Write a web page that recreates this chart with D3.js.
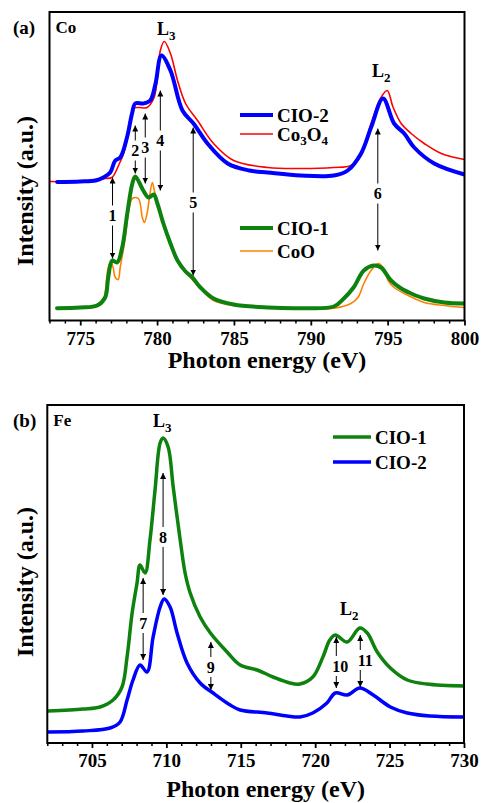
<!DOCTYPE html>
<html><head><meta charset="utf-8">
<script src="https://cdn.jsdelivr.net/npm/d3@7"></script>
<style>
html,body{margin:0;padding:0;background:#fff;}
</style></head>
<body>
<svg id="chart" width="481" height="803" style="font-family:'Liberation Serif','DejaVu Serif',serif;font-weight:bold;"></svg>
<script>
const FONT = "'Liberation Serif','DejaVu Serif',serif";
// ---------- Panel (a): Co L-edge ----------
const coCIO2 = [[773.5,138.5],[775,139],[776,140],[776.5,143],[776.95,148],[777.28,160],[777.6,163],[778.04,183],[778.37,207],[778.58,217],[779.1,217],[779.55,220],[779.9,237],[780.28,265],[780.87,250],[781.65,210],[782.37,197],[783.28,177],[784.59,157],[786,150],[787.2,148],[789.35,145],[791.5,145],[792.4,150],[793.27,167],[793.92,193],[794.7,222],[795.42,197],[796.08,187],[796.73,173],[798.03,157],[800,146]];
const coCo3O4 = [[773.03,139],[775,139],[776,141],[776.6,142],[777.06,143],[777.49,155],[777.82,167],[778.14,187],[778.47,212],[778.8,213],[779.34,213],[779.78,222],[780.0,240],[780.21,270],[780.47,279],[780.87,267],[781.33,240],[781.85,217],[782.63,200],[783.67,177],[784.98,160],[787.2,153],[789.35,152],[791.5,153],[792.61,155],[793.27,165],[793.92,197],[794.57,223],[794.97,230],[795.36,213],[795.88,197],[796.53,187],[797.38,177],[798.49,167],[800,161]];
const coCIO1 = [[773.49,12.3],[775,13],[776.1,15],[776.62,23],[776.82,43],[777.08,60],[777.4,58],[777.73,73],[778.06,107],[778.39,137],[778.58,144],[779.1,130],[779.45,123],[779.78,126],[780.02,117],[780.41,97],[780.87,77],[781.33,60],[781.85,49],[782.3,43],[782.82,33],[783.67,22],[784.98,16],[787.2,13],[789.35,12.3],[791.5,14],[792.15,22],[792.78,33],[793.45,50],[794.1,55],[794.57,53],[795.22,40],[795.88,32],[796.53,27],[797.38,22],[798.69,18],[800,17]];
const coCoO = [[775.32,12.3],[776.0,14],[776.49,20],[776.82,53],[777.01,58],[777.14,53],[777.28,43],[777.47,41],[777.6,53],[777.93,83],[778.12,107],[778.39,122],[778.78,122],[779.04,103],[779.17,98],[779.36,108],[779.5,123],[779.69,138],[779.82,130],[780.02,117],[780.67,83],[781.52,55],[782.17,43],[782.82,32],[783.67,20],[784.98,15],[787.2,13],[789.35,12.3],[791.5,12.3],[792.61,17],[793.07,23],[793.45,37],[793.92,50],[794.38,57],[794.7,53],[795.03,40],[795.42,33],[796.34,25],[797.38,18],[798.69,15],[800,13]];
const coArrows = [
  {label:"1", e:777.1, up:143, mid:105, down:62},
  {label:"2", e:778.58, up:195, mid:170, down:147},
  {label:"3", e:779.23, up:207, mid:173, down:137},
  {label:"4", e:780.21, up:230, mid:180, down:130},
  {label:"5", e:782.35, up:193, mid:118, down:45},
  {label:"6", e:794.36, up:192, mid:127, down:70}
];
const coTicks = [775,780,785,790,795,800];

// ---------- Panel (b): Fe L-edge ----------
const feCIO1 = [[702.05,32],[704.4,34],[705.54,36],[706.42,43],[707.02,56],[707.36,86],[707.7,130],[708.03,160],[708.23,178],[708.57,170],[708.9,203],[709.24,253],[709.58,300],[709.78,305],[710.12,296],[710.46,256],[710.93,203],[711.26,170],[711.6,150],[712.27,126],[712.96,110],[714.08,91],[714.96,78],[716.1,73],[717.17,66],[718.3,60],[718.97,59],[719.84,66],[720.52,86],[720.98,103],[721.35,108],[722.15,101],[723.0,115],[723.5,110],[724.17,91],[725.05,75],[726.19,63],[727.5,59],[730,57]];
const feCIO2 = [[702.05,11],[704.4,12],[706.22,15],[706.89,21],[707.36,43],[707.76,63],[708.23,78],[708.7,71],[709.11,106],[709.58,136],[709.85,144],[710.25,136],[710.72,110],[711.39,80],[712.27,60],[713.14,50],[714.29,38],[714.96,33],[716.77,30],[718.11,27],[718.97,26],[719.84,30],[720.79,40],[721.35,50],[722.15,48],[723.0,55],[723.9,48],[725.05,36],[726.19,30],[727.7,27],[730,26]];
const feArrows = [
  {label:"7", e:708.44, up:165, mid:120, down:83},
  {label:"8", e:709.78, up:270, mid:206, down:148},
  {label:"9", e:712.99, up:101, mid:76, down:53},
  {label:"10", e:721.42, up:106, mid:77, down:55, dx:4},
  {label:"11", e:723.03, up:108, mid:83, down:56, dx:5}
];
const feTicks = [705,710,715,720,725,730];

const svg = d3.select("#chart");
const defs = svg.append("defs");
defs.append("marker").attr("id","ah").attr("viewBox","0 0 10 10")
  .attr("refX",10).attr("refY",5).attr("markerWidth",6).attr("markerHeight",6)
  .attr("markerUnits","userSpaceOnUse").attr("orient","auto")
  .append("path").attr("d","M0,0 L10,5 L0,10 Z").attr("fill","#000");

function txt(sel){ return sel.style("font-family",FONT).style("font-weight","bold").attr("fill","#000"); }

function panel(cfg){
  const x = d3.scaleLinear().domain(cfg.xDomain).range([cfg.left, cfg.right]);
  const y = d3.scaleLinear().domain(cfg.yDomain).range([cfg.bottom, cfg.top]);
  const g = svg.append("g");
  const clipId = "clip"+cfg.id;
  defs.append("clipPath").attr("id",clipId).append("rect")
    .attr("x",cfg.left).attr("y",cfg.top).attr("width",cfg.right-cfg.left).attr("height",cfg.bottom-cfg.top);
  const line = d3.line().x(d=>x(d[0])).y(d=>y(d[1])).curve(d3.curveCatmullRom.alpha(0.5));
  const lg = g.append("g").attr("clip-path",`url(#${clipId})`);
  cfg.series.forEach(s=>{
    lg.append("path").datum(s.data).attr("d",line).attr("fill","none")
      .attr("stroke",s.color).attr("stroke-width",s.width).attr("stroke-linejoin","round").attr("stroke-linecap","round");
  });
  const minor = d3.range(Math.ceil(cfg.xDomain[0]), cfg.xDomain[1]+0.01, 1).filter(v=>v%5!==0);
  const minorAxis = d3.axisBottom(x).tickValues(minor).tickSize(3).tickFormat("");
  const mg = g.append("g").attr("transform",`translate(0,${cfg.bottom})`).call(minorAxis);
  mg.select(".domain").remove();
  mg.selectAll("line").attr("stroke-width",1.5);
  const majorAxis = d3.axisBottom(x).tickValues(cfg.ticks).tickSize(5).tickPadding(6).tickFormat(d3.format("d"));
  const ag = g.append("g").attr("transform",`translate(0,${cfg.bottom})`).call(majorAxis);
  ag.attr("font-family",null).attr("font-size",null);
  ag.select(".domain").remove();
  ag.selectAll("line").attr("stroke-width",1.8);
  txt(ag.selectAll("text")).attr("font-size",19);
  g.append("rect").attr("x",cfg.left).attr("y",cfg.top).attr("width",cfg.right-cfg.left).attr("height",cfg.bottom-cfg.top)
    .attr("fill","none").attr("stroke","#000").attr("stroke-width",2);
  txt(g.append("text")).attr("x",(cfg.left+cfg.right)/2+10).attr("y",cfg.xTitleY).attr("text-anchor","middle").attr("font-size",24).text("Photon energy (eV)");
  txt(g.append("text")).attr("transform",`translate(33,${cfg.yTitleC}) rotate(-90)`).attr("text-anchor","middle").attr("font-size",24).text("Intensity (a.u.)");
  txt(g.append("text")).attr("x",13).attr("y",cfg.top+22).attr("font-size",19).text(cfg.tag);
  txt(g.append("text")).attr("x",cfg.left+6).attr("y",cfg.top+21).attr("font-size",17).text(cfg.elem);
  cfg.edges.forEach(l=>{
    const t = txt(g.append("text")).attr("x",l.x).attr("y",l.y).attr("font-size",18);
    t.append("tspan").text("L");
    t.append("tspan").attr("dy",5).attr("font-size",13).text(l.sub);
  });
  cfg.arrows.forEach(a=>{
    const ax = x(a.e), ym = y(a.mid);
    const half = 10;
    g.append("line").attr("x1",ax).attr("x2",ax).attr("y1",ym-half).attr("y2",y(a.up))
      .attr("stroke","#000").attr("stroke-width",1).attr("marker-end","url(#ah)");
    g.append("line").attr("x1",ax).attr("x2",ax).attr("y1",ym+half).attr("y2",y(a.down))
      .attr("stroke","#000").attr("stroke-width",1).attr("marker-end","url(#ah)");
    txt(g.append("text")).attr("x",ax+(a.dx||0)).attr("y",ym+5.5).attr("text-anchor","middle").attr("font-size",16).text(a.label);
  });
  cfg.legend.forEach(l=>{
    g.append("line").attr("x1",l.x).attr("x2",l.x+l.len).attr("y1",l.y).attr("y2",l.y)
      .attr("stroke",l.color).attr("stroke-width",l.width);
    const t = txt(g.append("text")).attr("x",l.x+l.len+4).attr("y",l.y+7).attr("font-size",19);
    l.parts.forEach(p=>{
      const ts = t.append("tspan").text(p[0]);
      if(p[1]==="sub"){ ts.attr("font-size",13).attr("dy",4); }
      else if(p[1]==="up"){ ts.attr("dy",-4); }
    });
  });
}

panel({
  id:"a", xDomain:[773,800], yDomain:[0,308.5], left:49.5, right:464.5, top:12, bottom:320.5,
  ticks:coTicks, xTitleY:368, yTitleC:191, tag:"(a)", elem:"Co",
  series:[
    {data:coCo3O4, color:"#ff0000", width:1.6},
    {data:coCIO2, color:"#0000ff", width:4},
    {data:coCoO, color:"#ff8000", width:1.6},
    {data:coCIO1, color:"#0e820e", width:4}
  ],
  edges:[{x:157,y:35,sub:"3"},{x:372,y:77,sub:"2"}],
  arrows:coArrows,
  legend:[
    {x:240,len:33,y:115,color:"#0000ff",width:4,parts:[["CIO-2"]]},
    {x:240,len:33,y:134,color:"#ff0000",width:1.6,parts:[["Co"],["3","sub"],["O","up"],["4","sub"]]},
    {x:240,len:33,y:228,color:"#0e820e",width:4,parts:[["CIO-1"]]},
    {x:240,len:33,y:251,color:"#ff8000",width:1.6,parts:[["CoO"]]}
  ]
});

panel({
  id:"b", xDomain:[702,730], yDomain:[0,338], left:47.3, right:464, top:405, bottom:743,
  ticks:feTicks, xTitleY:797, yTitleC:582, tag:"(b)", elem:"Fe",
  series:[
    {data:feCIO1, color:"#0e820e", width:3.5},
    {data:feCIO2, color:"#0000ff", width:3.5}
  ],
  edges:[{x:153,y:427,sub:"3"},{x:340,y:615,sub:"2"}],
  arrows:feArrows,
  legend:[
    {x:333,len:38,y:437,color:"#0e820e",width:3.5,parts:[["CIO-1"]]},
    {x:333,len:38,y:462,color:"#0000ff",width:3.5,parts:[["CIO-2"]]}
  ]
});
</script>
</body></html>
